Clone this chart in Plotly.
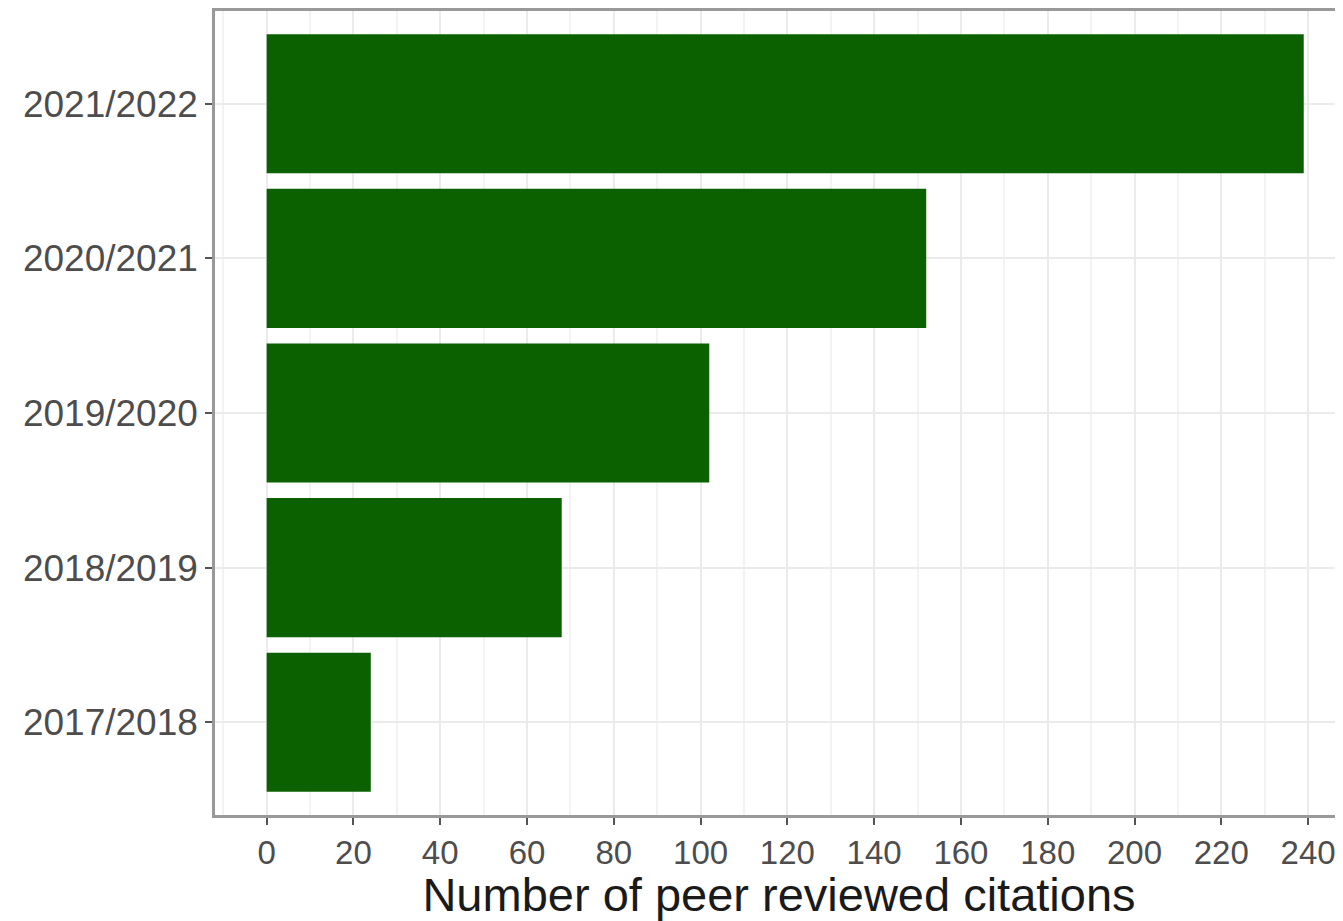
import plotly.graph_objects as go

categories = ["2017/2018", "2018/2019", "2019/2020", "2020/2021", "2021/2022"]
citations = [24, 68, 102, 152, 239]
x_ticks = [0, 20, 40, 60, 80, 100, 120, 140, 160, 180, 200, 220, 240]

fig = go.Figure(
    go.Bar(
        x=citations,
        y=categories,
        orientation="h",
        marker=dict(color="#0B6100", line=dict(width=0)),
    )
)

font_family = "Liberation Sans, Arial, sans-serif"

# page body has an 8px default margin, so the figure is sized to fit inside the window
fig.update_layout(
    width=1335,
    height=913,
    margin=dict(l=207, r=0, t=1, b=106),
    paper_bgcolor="white",
    plot_bgcolor="white",
    bargap=0.1,
    showlegend=False,
    font=dict(family=font_family),
)

fig.update_xaxes(
    range=[-11.9, 248.05],
    tickmode="array",
    tickvals=x_ticks,
    ticktext=[str(v) for v in x_ticks],
    tickfont=dict(size=33, color="#4D4D4D", family=font_family),
    ticks="outside",
    ticklen=7,
    tickwidth=2,
    tickcolor="#555555",
    showgrid=True,
    gridcolor="#EBEBEB",
    gridwidth=2,
    minor=dict(dtick=10, tick0=0, showgrid=True, gridcolor="#F3F3F3", gridwidth=1.5, ticks=""),
    zeroline=False,
    showline=True,
    linecolor="#999999",
    linewidth=2.5,
    mirror=True,
    title=dict(
        text="Number of peer reviewed citations",
        font=dict(size=47, color="#1A1A1A", family=font_family),
        standoff=2,
    ),
)

fig.update_yaxes(
    type="category",
    categoryorder="array",
    categoryarray=categories,
    range=[-0.6, 4.6],
    tickfont=dict(size=37, color="#4D4D4D", family=font_family),
    ticks="outside",
    ticklen=7,
    tickwidth=2,
    tickcolor="#555555",
    showgrid=True,
    gridcolor="#EBEBEB",
    gridwidth=2,
    zeroline=False,
    showline=True,
    linecolor="#999999",
    linewidth=2.5,
    mirror=False,
)

fig.write_html("out.html")
